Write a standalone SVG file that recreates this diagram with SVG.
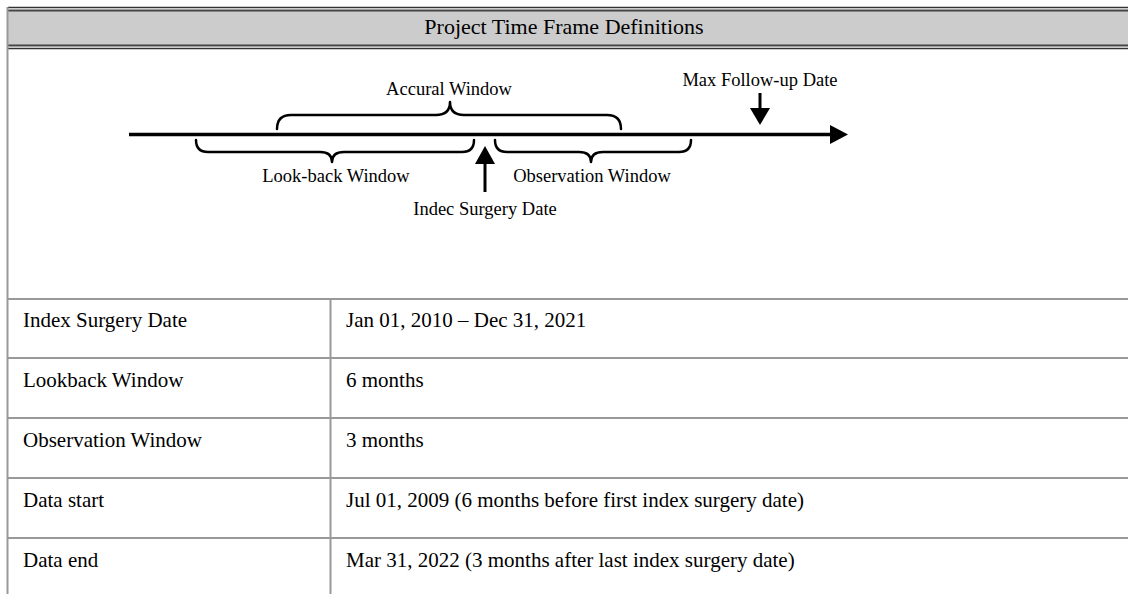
<svg xmlns="http://www.w3.org/2000/svg" width="1128" height="594" viewBox="0 0 1128 594">
<style>
text{font-family:"Liberation Serif","Times New Roman",serif;fill:#000}
.title{font-size:22px}
.cell{font-size:21px}
.lbl{font-size:18.5px}
.grid{stroke:#999;stroke-width:2;fill:none}
.brace{stroke:#000;stroke-width:2.5;fill:none;stroke-linecap:round;stroke-linejoin:round}
</style>
<rect x="0" y="0" width="1128" height="594" fill="#fff"/>
<g id="header">
<rect x="8" y="10" width="1120" height="36" fill="#ccc"/>
<line x1="8" y1="7.5" x2="1128" y2="7.5" stroke="#333" stroke-width="1.5"/>
<line x1="8" y1="10.5" x2="1128" y2="10.5" stroke="#444" stroke-width="2"/>
<line x1="8" y1="45.5" x2="1128" y2="45.5" stroke="#444" stroke-width="2"/>
<line x1="8" y1="48.5" x2="1128" y2="48.5" stroke="#333" stroke-width="1.5"/>
<text class="title" x="564" y="34" text-anchor="middle">Project Time Frame Definitions</text>
</g>
<g id="table-grid">
<line class="grid" x1="7.5" y1="7" x2="7.5" y2="594"/>
<line class="grid" x1="330.5" y1="299" x2="330.5" y2="594"/>
<line class="grid" x1="7" y1="299" x2="1128" y2="299"/>
<line class="grid" x1="7" y1="358" x2="1128" y2="358"/>
<line class="grid" x1="7" y1="418" x2="1128" y2="418"/>
<line class="grid" x1="7" y1="478" x2="1128" y2="478"/>
<line class="grid" x1="7" y1="538" x2="1128" y2="538"/>
</g>
<g id="timeline">
<line x1="129" y1="134.5" x2="832" y2="134.5" stroke="#000" stroke-width="3.5"/>
<polygon points="830,125 848,134.5 830,144" fill="#000"/>
</g>
<g id="accural-window">
<path class="brace" d="M277,129 Q277,115 291,115 L436,115 Q450,115 450,102 Q450,115 464,115 L607,115 Q621,115 621,129"/>
<text class="lbl" x="449" y="95" text-anchor="middle">Accural Window</text>
</g>
<g id="lookback-window">
<path class="brace" d="M196,140 Q196,152 208,152 L320,152 Q332,152 332,162 Q332,152 344,152 L462,152 Q474,152 474,140"/>
<text class="lbl" x="336" y="182" text-anchor="middle">Look-back Window</text>
</g>
<g id="observation-window">
<path class="brace" d="M495,140 Q495,152 507,152 L579,152 Q591,152 591,162 Q591,152 603,152 L679,152 Q691,152 691,140"/>
<text class="lbl" x="592" y="182" text-anchor="middle">Observation Window</text>
</g>
<g id="index-surgery-date">
<line x1="485" y1="162" x2="485" y2="192" stroke="#000" stroke-width="3"/>
<polygon points="485,146 475,164 495,164" fill="#000"/>
<text class="lbl" x="485" y="215" text-anchor="middle">Indec Surgery Date</text>
</g>
<g id="max-followup-date">
<line x1="760" y1="93" x2="760" y2="110" stroke="#000" stroke-width="3"/>
<polygon points="750,108 770,108 760,125" fill="#000"/>
<text class="lbl" x="760" y="86" text-anchor="middle">Max Follow-up Date</text>
</g>
<g id="row-index">
<text class="cell" x="23" y="327">Index Surgery Date</text>
<text class="cell" x="346" y="327">Jan 01, 2010 – Dec 31, 2021</text>
</g>
<g id="row-lookback">
<text class="cell" x="23" y="387">Lookback Window</text>
<text class="cell" x="346" y="387">6 months</text>
</g>
<g id="row-observation">
<text class="cell" x="23" y="447">Observation Window</text>
<text class="cell" x="346" y="447">3 months</text>
</g>
<g id="row-data-start">
<text class="cell" x="23" y="507">Data start</text>
<text class="cell" x="346" y="507">Jul 01, 2009 (6 months before first index surgery date)</text>
</g>
<g id="row-data-end">
<text class="cell" x="23" y="567">Data end</text>
<text class="cell" x="346" y="567">Mar 31, 2022 (3 months after last index surgery date)</text>
</g>
</svg>
